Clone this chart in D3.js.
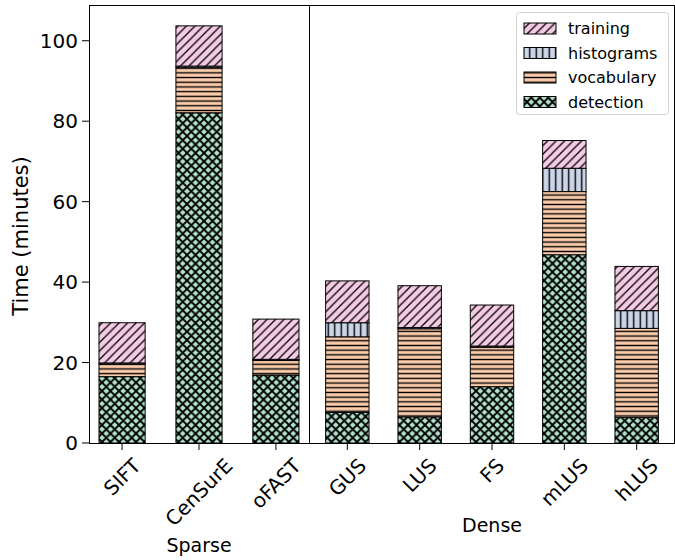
<!DOCTYPE html>
<html>
<head>
<meta charset="utf-8">
<script src="https://cdn.jsdelivr.net/npm/d3@7"></script>
<style>
  body { margin: 0; background: #fff; }
  svg { display: block; font-family: "DejaVu Sans", sans-serif; }
</style>
</head>
<body>
<svg id="chart" width="675" height="560"></svg>
<script>
// data
var sparse = ["SIFT", "CenSurE", "oFAST"];
var dense = ["GUS", "LUS", "FS", "mLUS", "hLUS"];
var detection  = [16.5, 82.1, 16.9, 7.6, 6.5, 14.0, 46.8, 6.4];
var vocabulary = [3.1, 11.2, 3.6, 18.8, 21.9, 9.8, 15.7, 22.1];
var histograms = [0.3, 0.4, 0.3, 3.5, 0.3, 0.3, 5.8, 4.4];
var training   = [10.0, 10.0, 10.0, 10.4, 10.4, 10.2, 6.9, 11.0];
var yTicks = [0, 20, 40, 60, 80, 100];

var keys = ["detection", "vocabulary", "histograms", "training"];
var colors = {detection: "#b3e2cd", vocabulary: "#fdcdac", histograms: "#cbd5e8", training: "#f4cae4"};

var rows = sparse.concat(dense).map(function(name, i) {
    return {name: name, group: i < sparse.length ? "Sparse" : "Dense",
            detection: detection[i], vocabulary: vocabulary[i],
            histograms: histograms[i], training: training[i]};
});

var svg = d3.select('#chart');
var top_y = 5, bottom_y = 443;
var bar_w = 0.6;

var stacked = d3.stack().keys(keys)(rows);
var ymax = d3.max(stacked[stacked.length - 1], function(d) { return d[1]; }) * 1.05;
var y = d3.scaleLinear().domain([0, ymax]).range([bottom_y, top_y]);

// hatch patterns
var defs = svg.append('defs');
function pattern(id, size, bg, d, sw) {
    var p = defs.append('pattern').attr('id', id)
        .attr('patternUnits', 'userSpaceOnUse')
        .attr('width', size).attr('height', size);
    p.append('rect').attr('width', size).attr('height', size).attr('fill', bg);
    p.append('path').attr('d', d).attr('stroke', '#000').attr('stroke-width', sw).attr('fill', 'none');
}
var s1 = 8.5;
var fwd = 'M0,' + s1 + 'L' + s1 + ',0 M' + (-s1/2) + ',' + (s1/2) + 'L' + (s1/2) + ',' + (-s1/2) +
          ' M' + (s1/2) + ',' + (s1*1.5) + 'L' + (s1*1.5) + ',' + (s1/2);
var back = 'M0,0L' + s1 + ',' + s1 + ' M' + (-s1/2) + ',' + (s1/2) + 'L' + (s1/2) + ',' + (s1*1.5) +
          ' M' + (s1/2) + ',' + (-s1/2) + 'L' + (s1*1.5) + ',' + (s1/2);
pattern('h-training', s1, colors.training, fwd, 1.3);
pattern('h-detection', s1, colors.detection, fwd + ' ' + back, 1.9);
var s2 = 4.7;
pattern('h-vocabulary', s2, colors.vocabulary, 'M0,' + (s2/2) + 'L' + s2 + ',' + (s2/2), 1.4);
var s3 = 6.5;
pattern('h-histograms', s3, colors.histograms, 'M' + (s3/2) + ',0L' + (s3/2) + ',' + s3, 1.4);

// panels
var panels = [
    {label: "Sparse", names: sparse, left: 89, right: 309},
    {label: "Dense", names: dense, left: 309, right: 675}
];

panels.forEach(function(p, pi) {
    var n = p.names.length;
    var m = (n - 1 + bar_w) * 0.05;
    var x = d3.scaleLinear().domain([-bar_w/2 - m, n - 1 + bar_w/2 + m]).range([p.left, p.right]);
    var unit = x(1) - x(0);
    var offset = pi === 0 ? 0 : sparse.length;

    var g = svg.append('g');
    stacked.forEach(function(layer) {
        g.selectAll(null)
            .data(layer.slice(offset, offset + n))
            .enter().append('rect')
            .attr('x', function(d, i) { return x(i) - unit * bar_w / 2; })
            .attr('width', unit * bar_w)
            .attr('y', function(d) { return y(d[1]); })
            .attr('height', function(d) { return y(d[0]) - y(d[1]); })
            .attr('fill', 'url(#h-' + layer.key + ')')
            .attr('stroke', '#000')
            .attr('stroke-width', 1);
    });

    // x ticks
    var ticks = svg.append('g');
    var maxExt = 0;
    p.names.forEach(function(name, i) {
        ticks.append('line')
            .attr('x1', x(i)).attr('x2', x(i))
            .attr('y1', bottom_y).attr('y2', bottom_y + 7)
            .attr('stroke', '#000').attr('stroke-width', 1);
        var t = ticks.append('text')
            .attr('text-anchor', 'middle')
            .attr('dominant-baseline', 'central')
            .attr('font-size', 20)
            .attr('fill', '#000')
            .text(name);
        var w = t.node().getComputedTextLength();
        var ext = (w + 23) * Math.SQRT1_2;
        if (ext > maxExt) maxExt = ext;
        t.attr('transform', 'translate(' + x(i) + ',' + (bottom_y + 11 + ext / 2) + ') rotate(-45)');
    });

    svg.append('text')
        .attr('x', (p.left + p.right) / 2)
        .attr('y', bottom_y + 11 + maxExt + 21)
        .attr('text-anchor', 'middle')
        .attr('font-size', 19)
        .attr('fill', '#000')
        .text(p.label);
});

// y axis
var ya = svg.append('g');
yTicks.forEach(function(v) {
    ya.append('line')
        .attr('x1', 82).attr('x2', 89)
        .attr('y1', y(v)).attr('y2', y(v))
        .attr('stroke', '#000').attr('stroke-width', 1);
    ya.append('text')
        .attr('x', 78).attr('y', y(v) + 7)
        .attr('text-anchor', 'end')
        .attr('font-size', 20)
        .attr('fill', '#000')
        .text(v);
});

svg.append('text')
    .attr('transform', 'translate(21,236) rotate(-90)')
    .attr('text-anchor', 'middle')
    .attr('dominant-baseline', 'central')
    .attr('font-size', 21)
    .attr('fill', '#000')
    .text('Time (minutes)');

// spines
var sp = svg.append('g').attr('stroke', '#000').attr('stroke-width', 1).attr('fill', 'none');
sp.append('rect').attr('x', 89.5).attr('y', top_y + 0.5).attr('width', 674.5 - 89.5).attr('height', bottom_y - top_y);
sp.append('line').attr('x1', 309.5).attr('x2', 309.5).attr('y1', top_y).attr('y2', bottom_y);

// legend
var legend = svg.append('g');
legend.append('rect')
    .attr('x', 516.5).attr('y', 12.5).attr('width', 152).attr('height', 102)
    .attr('rx', 3).attr('fill', '#fff').attr('fill-opacity', 0.8)
    .attr('stroke', '#d0d0d0').attr('stroke-width', 1);
keys.slice().reverse().forEach(function(k, i) {
    var cy = 28.5 + i * 24.5;
    legend.append('rect')
        .attr('x', 524).attr('y', cy - 5.5).attr('width', 32).attr('height', 11)
        .attr('fill', 'url(#h-' + k + ')').attr('stroke', '#000').attr('stroke-width', 1);
    legend.append('text')
        .attr('x', 568).attr('y', cy + 5.5)
        .attr('font-size', 16)
        .attr('fill', '#000')
        .text(k);
});
</script>
</body>
</html>
